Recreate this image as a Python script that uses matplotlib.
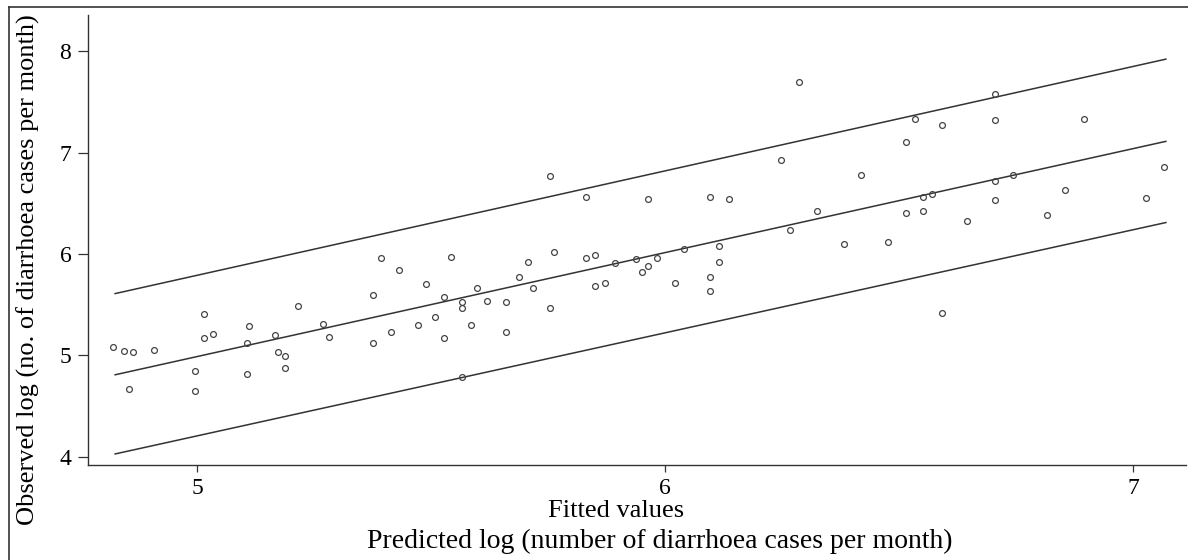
import matplotlib.pyplot as plt
from matplotlib.lines import Line2D

plt.rcParams['font.family'] = ['Liberation Serif', 'DejaVu Serif']

# --- data ---
# fitted (predicted) log values
fitted = [4.821, 4.843, 4.864, 4.908, 4.854, 5.015, 5.015, 5.035, 4.996, 4.996,
          5.111, 5.106, 5.106, 5.167, 5.172, 5.187, 5.187, 5.215, 5.270, 5.281,
          5.375, 5.375, 5.432, 5.414, 5.472, 5.489, 5.509, 5.527, 5.527, 5.566,
          5.566, 5.585, 5.598, 5.566, 5.393, 5.543,
          6.267, 5.763, 5.708, 5.830, 5.851, 5.894, 5.937, 5.983, 6.040, 6.115,
          6.115, 5.964, 5.950, 5.687, 5.717, 5.851, 5.872, 6.022, 6.096, 6.096,
          5.620, 5.660, 5.754, 5.660,
          6.287, 6.704, 6.533, 6.591, 6.704, 6.894, 6.515, 6.419, 6.704, 6.743,
          7.065, 6.552, 6.571, 6.704, 6.855, 7.028, 6.324, 6.515, 6.552, 6.646,
          6.817, 6.382, 6.476, 6.591,
          5.755, 5.831, 5.964, 6.096, 6.136, 6.248]

# observed log values
observed = [5.081, 5.047, 5.037, 5.057, 4.673, 5.406, 5.175, 5.209, 4.844, 4.647,
            5.288, 5.120, 4.821, 5.202, 5.031, 4.995, 4.877, 5.491, 5.310, 5.182,
            5.593, 5.126, 5.842, 5.232, 5.300, 5.707, 5.379, 5.579, 5.175, 5.530,
            5.468, 5.300, 5.665, 4.785, 5.961, 5.967,
            6.239, 6.020, 5.924, 5.961, 5.990, 5.911, 5.948, 5.964, 6.046, 6.079,
            5.921, 5.882, 5.820, 5.770, 5.668, 5.688, 5.717, 5.717, 5.770, 5.633,
            5.540, 5.530, 5.468, 5.234,
            7.698, 7.579, 7.333, 7.268, 7.317, 7.333, 7.103, 6.775, 6.722, 6.781,
            6.857, 6.565, 6.588, 6.532, 6.633, 6.549, 6.424, 6.407, 6.424, 6.322,
            6.387, 6.096, 6.115, 5.416,
            6.768, 6.565, 6.539, 6.559, 6.545, 6.926]

# fitted line and prediction band (end points)
line_x = [4.825, 7.07]
line_fit = [4.81, 7.11]
line_upper = [5.61, 7.92]
line_lower = [4.03, 6.31]

xticks = [5, 6, 7]
yticks = [4, 5, 6, 7, 8]

# --- figure ---
fig = plt.figure(figsize=(11.88, 5.6), dpi=100)
ax = fig.add_axes([88 / 1188, 1 - 465 / 560, (1186 - 88) / 1188, 450 / 560])

line_col = '#333333'
ax.plot(line_x, line_upper, color=line_col, lw=1.1)
ax.plot(line_x, line_fit, color=line_col, lw=1.1)
ax.plot(line_x, line_lower, color=line_col, lw=1.1)

ax.plot(fitted, observed, linestyle='none', marker='o', markersize=4.2,
        markerfacecolor='none', markeredgecolor='#444444', markeredgewidth=0.9)

ax.set_xlim(4.767, 7.113)
ax.set_ylim(3.921, 8.355)
ax.set_xticks(xticks)
ax.set_yticks(yticks)

ax.spines['top'].set_visible(False)
ax.spines['right'].set_visible(False)
for s in ['left', 'bottom']:
    ax.spines[s].set_color('#333333')
    ax.spines[s].set_linewidth(1.0)

ax.tick_params(axis='y', length=7, width=0.9, pad=5, labelsize=17, color='#333333')
ax.tick_params(axis='x', length=5, width=0.9, pad=4, labelsize=17, color='#333333')

# axis titles
fig.text(28 / 1188, 1 - 270 / 560, 'Observed log (no. of diarrhoea cases per month)',
         rotation=90, ha='center', va='center', fontsize=19)
fig.text(616 / 1188, 1 - 511 / 560, 'Fitted values',
         ha='center', va='center', fontsize=19)
fig.text(660 / 1188, 1 - 541 / 560, 'Predicted log (number of diarrhoea cases per month)',
         ha='center', va='center', fontsize=20)

# outer frame pieces
fig.add_artist(Line2D([9 / 1188, 9 / 1188], [0, 1 - 7 / 560], color='#333333', lw=1.2))
fig.add_artist(Line2D([9 / 1188, 1], [1 - 7 / 560, 1 - 7 / 560], color='#333333', lw=1.2))

fig.savefig('out.png', dpi=100)
